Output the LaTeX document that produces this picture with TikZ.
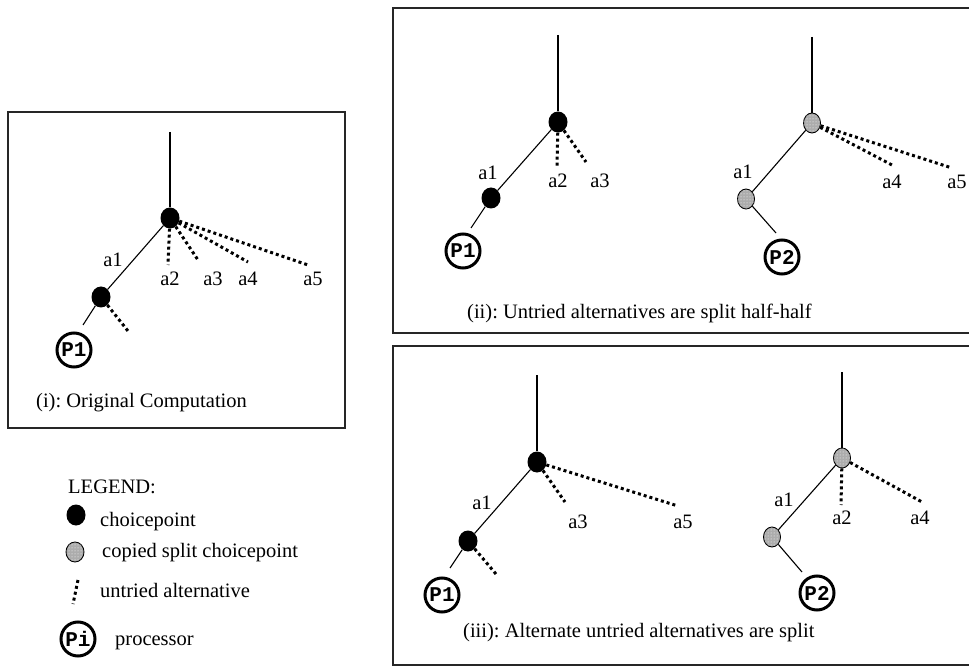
\documentclass[tikz,border=0pt]{standalone}
\usepackage{fontspec}
\setmainfont{Liberation Serif}
\newfontfamily\procfont{Liberation Mono}
\usetikzlibrary{shapes.geometric,patterns}
\frenchspacing

\begin{document}
\begin{tikzpicture}[x=1pt,y=-1pt,
  frame/.style={draw=black!85, line width=1.3pt},
  edge/.style={line width=1.1pt},
  alt/.style={line width=3pt, dash pattern=on 3pt off 3pt},
  choice/.style={ellipse, fill=black, inner sep=0pt, minimum width=19pt, minimum height=21pt},
  split/.style={ellipse, draw, line width=0.9pt, fill=gray!65,
    postaction={pattern=dots, pattern color=white},
    inner sep=0pt, minimum width=17pt, minimum height=20pt},
  proc/.style={circle, draw, line width=3pt, minimum size=34pt, inner sep=0pt,
    font=\procfont\bfseries\fontsize{21}{21}\selectfont},
  lbl/.style={font=\fontsize{20.5}{24}\selectfont, inner sep=0pt}]

\useasboundingbox (0,0) rectangle (969,668);
\clip (0,0) rectangle (969,668);

% ---------- (i) original computation ----------
\draw[frame] (8,112) rectangle (345,428);
\coordinate (iTop) at (170,132);
\node[choice] (iC) at (170,218) {};
\node[choice] (iL) at (101,297) {};
\coordinate (iLend) at (83,325);
\coordinate (iLalt) at (128,331);
\node[proc] (iP) at (74,350) {P1};
\coordinate (iA2) at (168,265);
\coordinate (iA3) at (198,260);
\coordinate (iA4) at (248,262);
\coordinate (iA5) at (308,265);
\draw[edge] (iTop) -- (iC);
\draw[edge] (iC) -- (iL);
\draw[edge] (iL) -- (iLend);
\draw[alt] (iL) -- (iLalt);
\draw[alt] (iC) -- (iA2);
\draw[alt] (iC) -- (iA3);
\draw[alt] (iC) -- (iA4);
\draw[alt] (iC) -- (iA5);
\node[lbl] (iLa1) at (113,260) {a1};
\node[lbl] (iLa2) at (170,279) {a2};
\node[lbl] (iLa3) at (213,279) {a3};
\node[lbl] (iLa4) at (248,279) {a4};
\node[lbl] (iLa5) at (313,279) {a5};
\node[lbl, anchor=west] (iCap) at (36,403) {(i): Original Computation};

% ---------- legend ----------
\node[lbl, anchor=base west] (legTitle) at (68,493) {LEGEND:};
\node[choice] (legC) at (76,515) {};
\node[lbl, anchor=base west] (legCt) at (100,526) {choicepoint};
\node[split, minimum width=18pt] (legS) at (75,552) {};
\node[lbl, anchor=base west] (legSt) at (102,557) {copied split choicepoint};
\coordinate (legAa) at (78,580);
\coordinate (legAb) at (73,604);
\draw[alt] (legAa) -- (legAb);
\node[lbl, anchor=base west] (legAt) at (100,597) {untried alternative};
\node[proc] (legP) at (78,639) {Pi};
\node[lbl, anchor=base west] (legPt) at (115,645) {processor};

% ---------- (ii) half-half split ----------
\draw[frame] (393,8) rectangle (990,333);
% first processor
\coordinate (aTop) at (558,35);
\node[choice] (aC) at (558,122) {};
\node[choice] (aL) at (491,198) {};
\coordinate (aLend) at (471,228);
\node[proc] (aP) at (463,251) {P1};
\coordinate (aA2) at (557,167);
\coordinate (aA3) at (586,162);
\draw[edge] (aTop) -- (aC);
\draw[edge] (aC) -- (aL);
\draw[edge] (aL) -- (aLend);
\draw[alt] (aC) -- (aA2);
\draw[alt] (aC) -- (aA3);
\node[lbl] (aLa1) at (488,173) {a1};
\node[lbl] (aLa2) at (558,181) {a2};
\node[lbl] (aLa3) at (600,181) {a3};
% second processor
\coordinate (bTop) at (812,37);
\node[split] (bC) at (812,123) {};
\node[split] (bL) at (746,199) {};
\coordinate (bLend) at (776,233);
\node[proc] (bP) at (782,257) {P2};
\coordinate (bA4) at (892,165);
\coordinate (bA5) at (952,168);
\draw[edge] (bTop) -- (bC);
\draw[edge] (bC) -- (bL);
\draw[edge] (bL) -- (bLend);
\draw[alt] (bC) -- (bA4);
\draw[alt] (bC) -- (bA5);
\node[lbl] (bLa1) at (743,172) {a1};
\node[lbl] (bLa4) at (892,182) {a4};
\node[lbl] (bLa5) at (957,182) {a5};
\node[lbl, anchor=west] (iiCap) at (467,313) {(ii): Untried alternatives are split half-half};

% ---------- (iii) alternate split ----------
\draw[frame] (393,346) rectangle (990,665);
% first processor
\coordinate (cTop) at (537,375);
\node[choice] (cC) at (537,462) {};
\node[choice] (cL) at (468,541) {};
\coordinate (cLend) at (450,568);
\coordinate (cLalt) at (496,574);
\node[proc] (cP) at (442,595) {P1};
\coordinate (cA3) at (565,502);
\coordinate (cA5) at (678,506);
\draw[edge] (cTop) -- (cC);
\draw[edge] (cC) -- (cL);
\draw[edge] (cL) -- (cLend);
\draw[alt] (cL) -- (cLalt);
\draw[alt] (cC) -- (cA3);
\draw[alt] (cC) -- (cA5);
\node[lbl] (cLa1) at (482,503) {a1};
\node[lbl] (cLa3) at (578,522) {a3};
\node[lbl] (cLa5) at (683,522) {a5};
% second processor
\coordinate (dTop) at (842,372);
\node[split] (dC) at (842,458) {};
\node[split] (dL) at (772,537) {};
\coordinate (dLend) at (802,572);
\node[proc] (dP) at (817,593) {P2};
\coordinate (dA2) at (841,505);
\coordinate (dA4) at (922,502);
\draw[edge] (dTop) -- (dC);
\draw[edge] (dC) -- (dL);
\draw[edge] (dL) -- (dLend);
\draw[alt] (dC) -- (dA2);
\draw[alt] (dC) -- (dA4);
\node[lbl] (dLa1) at (784,500) {a1};
\node[lbl] (dLa2) at (842,518) {a2};
\node[lbl] (dLa4) at (920,518) {a4};
\node[lbl, anchor=west] (iiiCap) at (463,633) {(iii): Alternate untried alternatives are split};
\end{tikzpicture}
\end{document}
